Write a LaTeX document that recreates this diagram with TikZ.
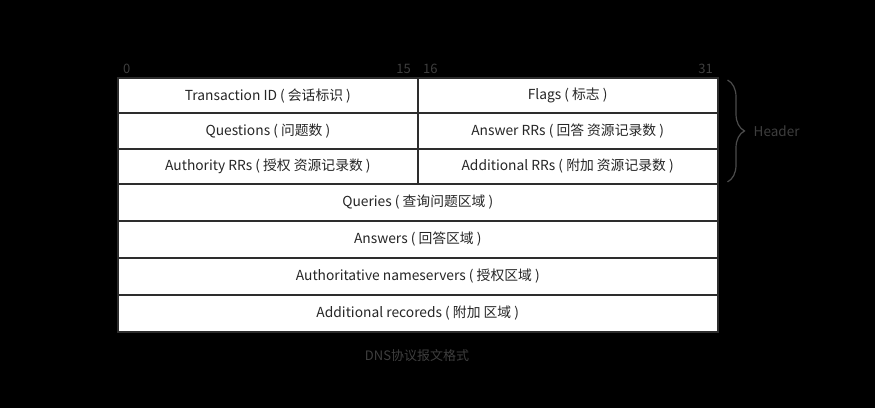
\documentclass[tikz,border=0pt]{standalone}
\usepackage{fontspec}
\setmainfont{Noto Sans CJK SC}
\usetikzlibrary{positioning,decorations.pathreplacing}

\definecolor{gridline}{RGB}{45,45,45}
\definecolor{dimtext}{RGB}{62,62,62}

\begin{document}
\begin{tikzpicture}[x=1pt,y=-1pt,
    field/.style={draw=gridline, line width=2pt, fill=white, inner sep=0pt, outer sep=0pt,
                  font=\fontsize{13.8}{15}\selectfont, text=black!85},
    half/.style={field, minimum width=299.75pt, minimum height=35.3pt},
    full/.style={field, minimum width=599.5pt, minimum height=37pt},
    bitno/.style={text=dimtext, font=\fontsize{13}{15}\selectfont, inner sep=0pt}]

    % black page
    \fill[black] (0,0) rectangle (875,408);

    % header, two columns
    \node[half, anchor=north west] (tid) at (118,78) {Transaction ID ( 会话标识 )};
    \node[half, right=0pt of tid] (flags) {Flags ( 标志 )};
    \node[half, below=0pt of tid] (qd) {Questions ( 问题数 )};
    \node[half, right=0pt of qd] (an) {Answer RRs ( 回答 资源记录数 )};
    \node[half, below=0pt of qd] (ns) {Authority RRs ( 授权 资源记录数 )};
    \node[half, right=0pt of ns] (ar) {Additional RRs ( 附加 资源记录数 )};

    % sections, full width
    \node[full, below=0pt of ns.south west, anchor=north west] (queries) {Queries ( 查询问题区域 )};
    \node[full, below=0pt of queries] (answers) {Answers ( 回答区域 )};
    \node[full, below=0pt of answers] (auth) {Authoritative nameservers ( 授权区域 )};
    \node[full, below=0pt of auth] (addl) {Additional recoreds ( 附加 区域 )};

    % bit numbers
    \node[bitno, anchor=base west] (b0) at (123,73) {0};
    \node[bitno, anchor=base east] (b15) at (411,73) {15};
    \node[bitno, anchor=base west] (b16) at (423,73) {16};
    \node[bitno, anchor=base east] (b31) at (713,73) {31};

    % header brace
    \coordinate (bracetop) at ([xshift=10pt,yshift=-2pt]flags.north east);
    \coordinate (bracebot) at ([xshift=10pt,yshift=2pt]ar.south east);
    \draw[gray!60!black, line width=1.2pt, decorate, decoration={brace, amplitude=17pt}]
        (bracetop) -- (bracebot) coordinate[midway, xshift=17pt] (bracetip);
    \node[right=9pt of bracetip, text=dimtext, font=\fontsize{13.5}{15}\selectfont, inner sep=0pt] (hdr) {Header};

    % caption
    \node[text=dimtext, font=\fontsize{13}{15}\selectfont] (caption) at (417,356) {DNS协议报文格式};

\end{tikzpicture}
\end{document}
